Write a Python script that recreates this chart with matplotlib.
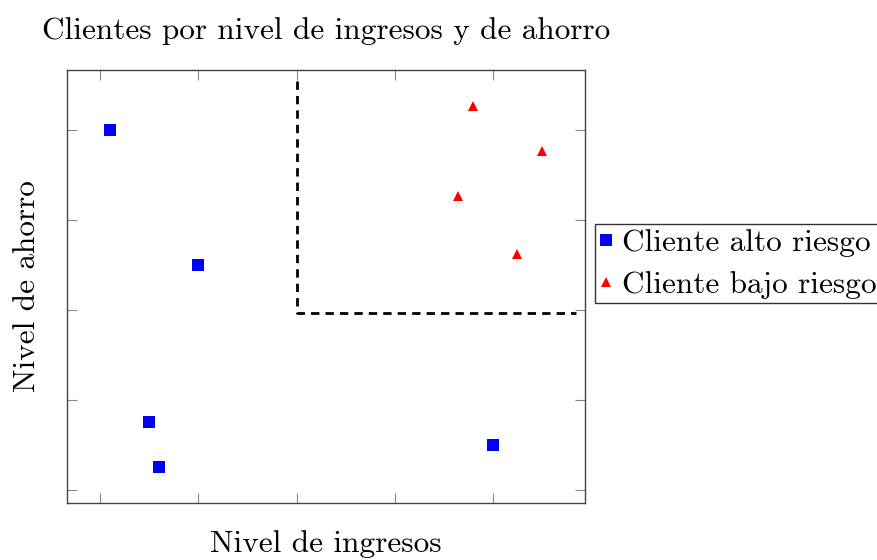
import matplotlib
matplotlib.use("Agg")
import matplotlib.pyplot as plt

plt.rcParams['font.family'] = ['cmr10', 'DejaVu Serif']
plt.rcParams['mathtext.fontset'] = 'cm'
plt.rcParams['axes.unicode_minus'] = False
plt.rcParams['axes.formatter.use_mathtext'] = True

# datos
alto_x = [1.1, 2.0, 1.5, 1.6, 5.0]
alto_y = [5.0, 3.5, 1.75, 1.25, 1.5]
bajo_x = [4.8, 5.5, 4.65, 5.25]
bajo_y = [5.27, 4.77, 4.27, 3.62]
frontera_x = [3.0, 3.0, 5.85]
frontera_y = [5.55, 2.97, 2.97]
ticks_x = [1, 2, 3, 4, 5]
ticks_y = [1, 2, 3, 4, 5]

fig = plt.figure(figsize=(8.78, 5.6), dpi=100)
ax = fig.add_axes([67 / 878, 1 - 503 / 560, (585 - 67) / 878, (503 - 70) / 560])

ax.plot(alto_x, alto_y, linestyle='none', marker='s', ms=8.6, mew=0,
        color='#0000ff', label='Cliente alto riesgo')
ax.plot(bajo_x, bajo_y, linestyle='none', marker='^', ms=7.5, mew=0,
        color='#ff0000', label='Cliente bajo riesgo')
ax.plot(frontera_x, frontera_y, color='black', lw=2.0, dashes=(3, 2.2))

ax.set_xlim(0.66, 5.94)
ax.set_ylim(0.85, 5.67)
ax.set_xticks(ticks_x)
ax.set_yticks(ticks_y)
ax.set_xticklabels([])
ax.set_yticklabels([])
ax.tick_params(direction='in', length=7.5, width=0.8, color='#888888',
               top=True, right=True)
for s in ax.spines.values():
    s.set_color('#444444')
    s.set_linewidth(1.0)

fs = 22.5
ax.set_title('Clientes por nivel de ingresos y de ahorro', fontsize=fs, pad=22)
ax.set_xlabel('Nivel de ingresos', fontsize=fs, labelpad=16)
ax.set_ylabel('Nivel de ahorro', fontsize=fs, labelpad=15)

leg = ax.legend(loc='upper left', bbox_to_anchor=(595 / 878, 1 - 224 / 560),
                bbox_transform=fig.transFigure, fontsize=fs, frameon=True,
                fancybox=False, shadow=False, borderpad=0.15,
                handlelength=0.4, handletextpad=0.3, labelspacing=0.45,
                borderaxespad=0, markerscale=1.0)
leg.get_frame().set_edgecolor('black')
leg.get_frame().set_linewidth(1.0)

fig.savefig('out.png', dpi=100)
